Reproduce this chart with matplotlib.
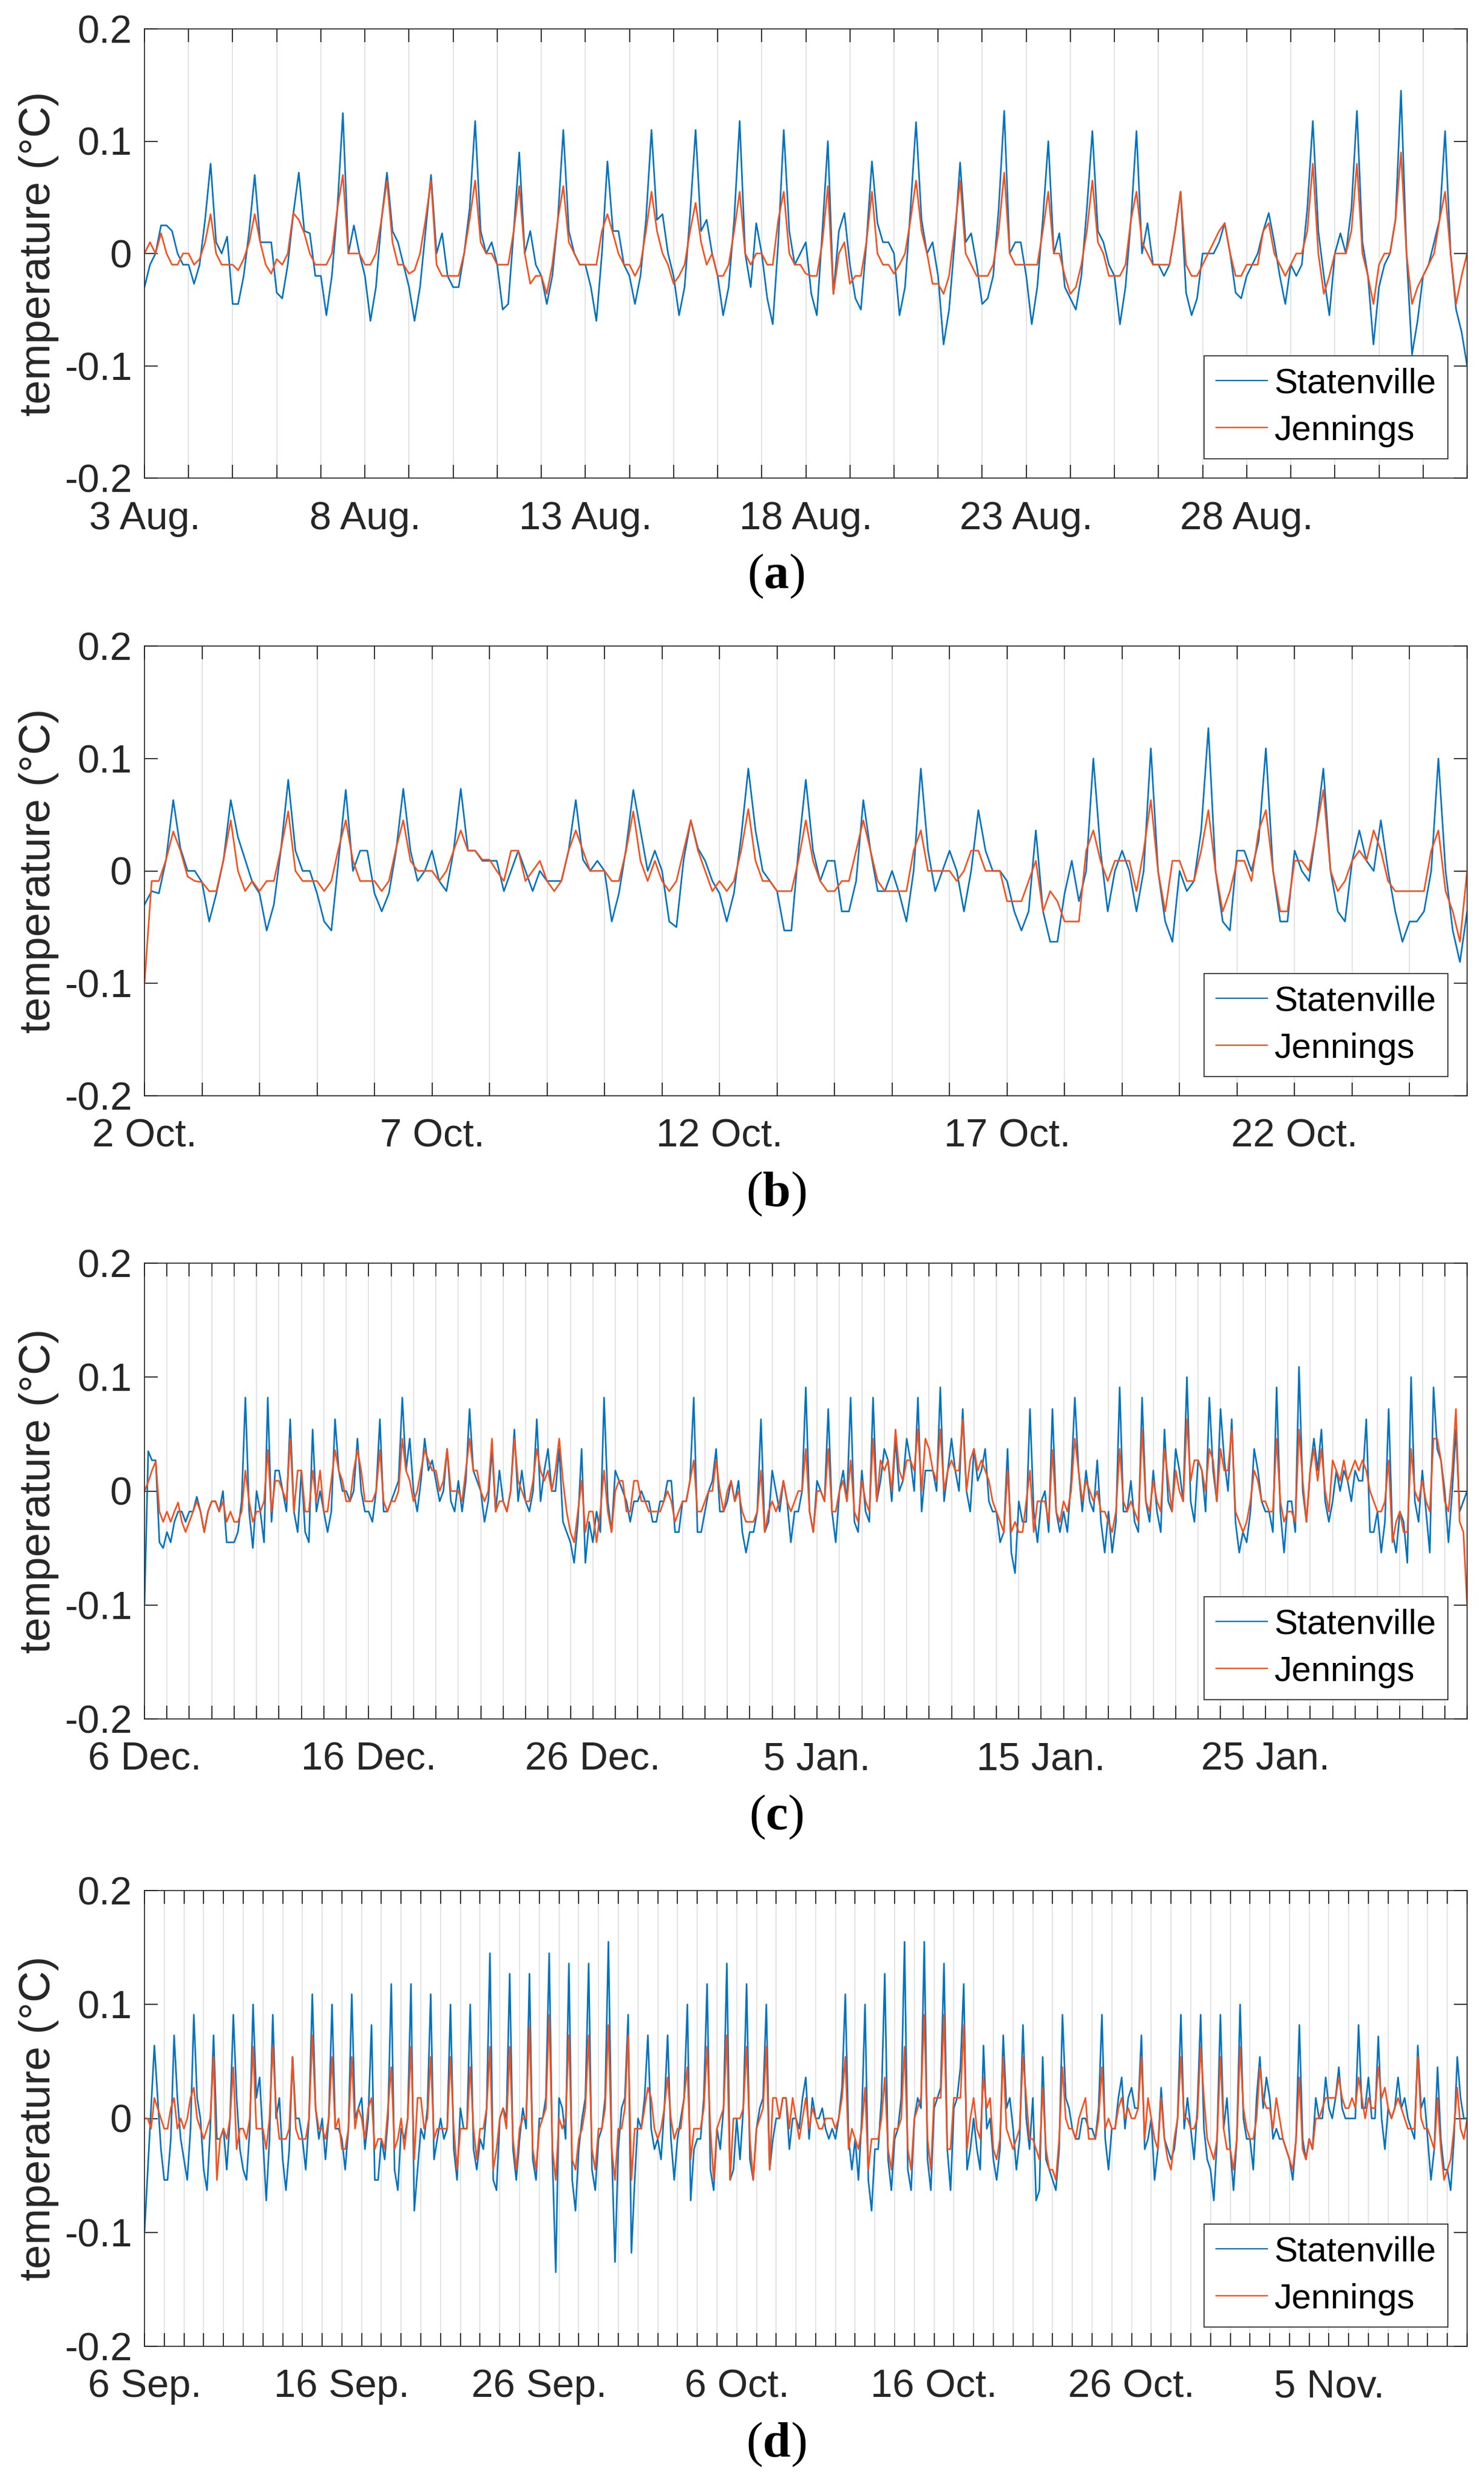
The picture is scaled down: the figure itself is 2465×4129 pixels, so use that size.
#!/usr/bin/python3

import numpy as np
import matplotlib
matplotlib.use("Agg")
import matplotlib.pyplot as plt

#_____________________________________________________________________________
# temperature residuals (deg C)
# panels a, b: one value every 3 h (8 per day), panels c, d: every 4 h (6 per day)

a_dt = 3
a_stat = [
    -0.03, -0.01, 0.0, 0.025, 0.025, 0.02, 0.0, -0.01,
    -0.01, -0.027, -0.01, 0.03, 0.08, 0.01, 0.0, 0.015,
    -0.045, -0.045, -0.02, 0.02, 0.07, 0.01, 0.01, 0.01,
    -0.035, -0.04, -0.01, 0.035, 0.072, 0.02, 0.018, -0.02,
    -0.02, -0.055, -0.02, 0.04, 0.125, 0.0, 0.025, 0.0,
    -0.02, -0.06, -0.03, 0.03, 0.072, 0.02, 0.01, -0.01,
    -0.03, -0.06, -0.03, 0.02, 0.07, 0.0, 0.018, -0.02,
    -0.03, -0.03, 0.0, 0.04, 0.118, 0.02, 0.0, 0.01,
    -0.01, -0.05, -0.045, 0.02, 0.09, 0.0, 0.02, -0.01,
    -0.02, -0.045, -0.02, 0.03, 0.11, 0.02, 0.0, -0.01,
    -0.01, -0.03, -0.06, 0.0, 0.082, 0.02, 0.02, -0.01,
    -0.02, -0.045, -0.02, 0.03, 0.11, 0.03, 0.035, 0.0,
    -0.02, -0.055, -0.03, 0.035, 0.11, 0.02, 0.03, 0.0,
    -0.02, -0.055, -0.03, 0.03, 0.118, 0.0, -0.03, 0.027,
    0.0, -0.04, -0.063, 0.01, 0.11, 0.02, -0.01, 0.0,
    0.01, -0.036, -0.055, 0.02, 0.10, -0.036, 0.02, 0.036,
    -0.01, -0.04, -0.05, 0.01, 0.082, 0.027, 0.01, 0.01,
    0.0, -0.055, -0.03, 0.04, 0.117, 0.03, 0.0, 0.01,
    -0.02, -0.081, -0.05, 0.01, 0.081, 0.01, 0.018, -0.01,
    -0.045, -0.04, -0.02, 0.04, 0.127, 0.0, 0.01, 0.01,
    -0.02, -0.063, -0.03, 0.03, 0.10, 0.0, 0.018, -0.03,
    -0.04, -0.05, -0.02, 0.04, 0.109, 0.02, 0.01, -0.01,
    -0.02, -0.063, -0.03, 0.03, 0.109, 0.0, 0.027, -0.01,
    -0.01, -0.02, -0.01, 0.02, 0.055, -0.035, -0.055, -0.04,
    0.0, 0.0, 0.0, 0.01, 0.027, 0.0, -0.035, -0.04,
    -0.02, -0.01, 0.0, 0.02, 0.036, 0.01, -0.02, -0.045,
    -0.01, -0.02, -0.01, 0.04, 0.118, 0.02, -0.02, -0.055,
    0.0, 0.018, 0.0, 0.04, 0.127, 0.01, -0.02, -0.081,
    -0.03, -0.01, 0.0, 0.03, 0.145, 0.0, -0.09, -0.06,
    -0.02, -0.01, 0.01, 0.03, 0.109, 0.0, -0.05, -0.07,
    -0.1,
]
a_jenn = [
    0.0, 0.01, 0.0, 0.018, 0.0, -0.01, -0.01, 0.0,
    0.0, -0.01, -0.005, 0.01, 0.035, 0.0, -0.01, -0.01,
    -0.01, -0.015, -0.005, 0.01, 0.035, 0.01, -0.01, -0.018,
    -0.005, -0.01, 0.0, 0.036, 0.03, 0.018, 0.0, -0.01,
    -0.01, -0.01, 0.0, 0.04, 0.07, 0.0, 0.0, 0.0,
    -0.01, -0.01, 0.0, 0.03, 0.065, 0.01, -0.01, -0.01,
    -0.018, -0.015, 0.0, 0.03, 0.065, -0.01, -0.02, -0.02,
    -0.02, -0.02, 0.0, 0.03, 0.065, 0.01, 0.0, 0.0,
    -0.01, -0.01, -0.01, 0.02, 0.06, 0.0, -0.027, -0.02,
    -0.02, -0.036, -0.01, 0.03, 0.06, 0.01, 0.0, -0.01,
    -0.01, -0.01, -0.01, 0.02, 0.035, 0.018, 0.0, -0.01,
    -0.01, -0.02, -0.01, 0.02, 0.055, 0.02, 0.0, -0.01,
    -0.027, -0.02, -0.01, 0.02, 0.045, 0.01, -0.01, 0.0,
    -0.02, -0.02, -0.01, 0.02, 0.055, 0.0, -0.01, 0.0,
    0.0, -0.01, -0.01, 0.03, 0.055, 0.0, -0.01, -0.01,
    -0.018, -0.02, -0.02, 0.01, 0.06, -0.036, 0.0, 0.01,
    -0.027, -0.02, -0.02, 0.01, 0.055, 0.0, -0.01, -0.01,
    -0.018, -0.01, 0.0, 0.03, 0.065, 0.02, 0.0, -0.027,
    -0.027, -0.036, -0.02, 0.02, 0.065, 0.0, -0.01, -0.02,
    -0.02, -0.02, -0.01, 0.02, 0.072, 0.0, -0.01, -0.01,
    -0.01, -0.01, -0.01, 0.02, 0.055, 0.0, 0.0, -0.02,
    -0.036, -0.03, -0.01, 0.02, 0.065, 0.01, 0.0, -0.02,
    -0.02, -0.02, -0.01, 0.03, 0.055, 0.01, 0.0, -0.01,
    -0.01, -0.01, -0.01, 0.02, 0.055, -0.01, -0.02, -0.02,
    -0.01, 0.0, 0.01, 0.02, 0.027, 0.0, -0.02, -0.02,
    -0.01, -0.01, -0.01, 0.02, 0.027, 0.0, -0.01, -0.02,
    -0.01, 0.0, 0.0, 0.02, 0.08, 0.0, -0.036, -0.02,
    0.0, 0.0, 0.0, 0.02, 0.08, 0.0, -0.02, -0.045,
    -0.01, 0.0, 0.0, 0.03, 0.09, 0.0, -0.045, -0.03,
    -0.02, -0.01, 0.0, 0.03, 0.055, 0.0, -0.045, -0.02,
    0.0,
]
a_labels = ["3 Aug.", "8 Aug.", "13 Aug.", "18 Aug.", "23 Aug.", "28 Aug."]
a_lstep = 5

b_dt = 3
b_stat = [
    -0.03, -0.018, -0.02, 0.01, 0.063, 0.02, 0.0, 0.0,
    -0.01, -0.045, -0.02, 0.01, 0.063, 0.03, 0.01, -0.01,
    -0.02, -0.053, -0.03, 0.02, 0.081, 0.018, 0.0, 0.0,
    -0.02, -0.045, -0.053, 0.01, 0.072, 0.0, 0.018, 0.018,
    -0.02, -0.036, -0.02, 0.018, 0.073, 0.018, -0.009, 0.0,
    0.018, -0.009, -0.018, 0.018, 0.073, 0.018, 0.018, 0.009,
    0.009, 0.009, -0.018, 0.0, 0.018, 0.0, -0.018, 0.0,
    -0.009, -0.009, -0.009, 0.018, 0.063, 0.01, 0.0, 0.009,
    0.0, -0.045, -0.02, 0.02, 0.072, 0.036, 0.0, 0.018,
    0.0, -0.045, -0.05, 0.01, 0.045, 0.02, 0.009, -0.009,
    -0.02, -0.045, -0.02, 0.03, 0.091, 0.036, 0.0, -0.009,
    -0.018, -0.053, -0.053, 0.02, 0.081, 0.018, -0.009, 0.009,
    0.009, -0.036, -0.036, -0.009, 0.063, 0.018, -0.018, -0.018,
    0.0, -0.02, -0.045, 0.0, 0.091, 0.018, -0.018, 0.0,
    0.018, 0.0, -0.036, 0.0, 0.054, 0.018, 0.0, 0.0,
    -0.009, -0.036, -0.053, -0.036, 0.036, -0.036, -0.063, -0.063,
    -0.02, 0.009, -0.027, 0.0, 0.1, 0.018, -0.036, 0.0,
    0.018, 0.0, -0.036, 0.0, 0.109, 0.0, -0.045, -0.063,
    0.0, -0.018, -0.009, 0.036, 0.127, 0.0, -0.045, -0.053,
    0.018, 0.018, 0.0, 0.027, 0.109, 0.0, -0.045, -0.045,
    0.018, 0.0, -0.009, 0.036, 0.091, 0.0, -0.036, -0.045,
    0.009, 0.036, 0.009, 0.0, 0.045, 0.0, -0.036, -0.063,
    -0.045, -0.045, -0.036, 0.0, 0.1, 0.0, -0.053, -0.081,
    -0.036,
]
b_jenn = [
    -0.1, -0.009, -0.009, 0.01, 0.035, 0.018, -0.005, -0.009,
    -0.01, -0.018, -0.018, 0.01, 0.045, 0.0, -0.018, -0.009,
    -0.018, -0.009, -0.009, 0.02, 0.053, 0.0, -0.009, -0.009,
    -0.009, -0.018, -0.009, 0.02, 0.045, 0.009, -0.009, -0.009,
    -0.009, -0.018, -0.009, 0.02, 0.045, 0.009, 0.0, 0.0,
    0.0, -0.009, 0.0, 0.018, 0.036, 0.018, 0.018, 0.01,
    0.01, 0.0, -0.009, 0.018, 0.018, -0.009, 0.0, 0.009,
    -0.009, -0.018, -0.009, 0.018, 0.036, 0.018, 0.0, 0.0,
    0.0, -0.009, -0.009, 0.018, 0.053, 0.009, -0.009, 0.009,
    -0.009, -0.018, -0.009, 0.018, 0.045, 0.018, 0.0, -0.018,
    -0.009, -0.018, -0.009, 0.018, 0.055, 0.009, -0.009, -0.009,
    -0.018, -0.018, -0.018, 0.01, 0.045, 0.009, -0.009, -0.018,
    -0.018, -0.009, -0.009, 0.018, 0.045, 0.018, -0.009, -0.018,
    -0.018, -0.018, -0.018, 0.018, 0.036, 0.0, 0.0, 0.0,
    0.0, -0.009, 0.0, 0.018, 0.018, 0.0, 0.0, 0.0,
    -0.027, -0.027, -0.027, -0.009, 0.009, -0.036, -0.018, -0.027,
    -0.045, -0.045, -0.045, 0.018, 0.036, 0.009, -0.009, 0.009,
    0.009, 0.009, -0.018, 0.018, 0.063, 0.0, -0.036, 0.009,
    0.009, -0.009, -0.009, 0.018, 0.054, 0.0, -0.036, -0.018,
    0.009, 0.009, -0.009, 0.036, 0.054, 0.0, -0.036, -0.036,
    0.009, 0.009, 0.0, 0.036, 0.072, 0.0, -0.018, -0.009,
    0.009, 0.018, 0.009, 0.036, 0.018, -0.009, -0.018, -0.018,
    -0.018, -0.018, -0.018, 0.018, 0.036, -0.018, -0.036, -0.063,
    0.0,
]
b_labels = ["2 Oct.", "7 Oct.", "12 Oct.", "17 Oct.", "22 Oct."]
b_lstep = 5

c_dt = 4
c_stat = [
    -0.1, 0.035, 0.027, 0.027, -0.045, -0.05,
    -0.036, -0.045, -0.027, -0.018, -0.018, -0.027,
    -0.018, -0.018, -0.005, -0.018, -0.036, -0.018,
    -0.009, -0.009, -0.018, 0.0, -0.045, -0.045,
    -0.045, -0.036, -0.009, 0.082, -0.018, -0.05,
    0.0, -0.018, -0.045, 0.082, -0.027, 0.018,
    0.018, 0.0, -0.018, 0.063, -0.018, -0.036,
    0.018, -0.036, -0.045, 0.054, -0.018, 0.0,
    -0.018, -0.036, -0.018, 0.063, 0.018, 0.0,
    0.0, -0.009, 0.0, 0.046, 0.0, -0.018,
    -0.018, -0.027, 0.0, 0.063, -0.018, -0.018,
    -0.009, 0.0, 0.009, 0.082, 0.018, 0.046,
    0.0, -0.018, 0.009, 0.046, 0.018, 0.027,
    0.009, -0.009, 0.0, 0.037, -0.009, -0.018,
    0.009, -0.018, 0.009, 0.072, 0.018, 0.009,
    0.0, -0.027, -0.009, 0.037, -0.018, 0.018,
    -0.009, -0.018, 0.0, 0.054, -0.009, 0.018,
    -0.009, -0.018, 0.0, 0.063, -0.009, 0.018,
    0.037, 0.0, 0.0, 0.037, -0.027, -0.036,
    -0.045, -0.063, -0.027, 0.037, -0.063, -0.027,
    -0.045, -0.018, -0.036, 0.082, -0.009, -0.036,
    0.018, 0.009, 0.0, -0.009, -0.027, -0.009,
    -0.009, 0.0, -0.009, -0.009, -0.027, -0.027,
    -0.009, -0.009, 0.009, 0.009, -0.036, -0.036,
    -0.009, -0.009, 0.009, 0.082, -0.036, -0.036,
    -0.018, 0.0, 0.009, 0.037, -0.018, -0.018,
    -0.009, 0.009, -0.009, 0.009, -0.036, -0.054,
    -0.036, -0.036, -0.018, 0.063, -0.036, -0.027,
    0.018, 0.0, -0.018, 0.009, -0.009, -0.045,
    -0.018, -0.018, 0.0, 0.091, -0.018, -0.036,
    0.009, 0.0, -0.009, 0.072, -0.018, -0.045,
    0.0, 0.018, -0.009, 0.082, -0.027, -0.036,
    0.018, -0.018, -0.027, 0.082, -0.009, 0.009,
    0.037, 0.027, -0.009, 0.046, 0.0, 0.009,
    0.046, 0.027, 0.0, 0.082, -0.018, 0.018,
    0.018, 0.018, 0.0, 0.091, -0.009, 0.018,
    0.046, 0.018, 0.0, 0.072, 0.0, -0.018,
    0.037, 0.009, 0.018, 0.037, -0.009, -0.018,
    -0.018, -0.045, -0.036, 0.037, -0.054, -0.072,
    -0.009, -0.027, -0.027, 0.072, -0.018, -0.045,
    -0.009, 0.0, -0.036, 0.072, -0.018, -0.036,
    -0.018, -0.036, 0.009, 0.082, 0.018, -0.018,
    0.018, -0.009, -0.018, 0.027, -0.027, -0.054,
    -0.018, -0.054, -0.027, 0.091, -0.018, -0.018,
    0.009, -0.027, -0.036, 0.082, -0.009, -0.027,
    0.018, -0.018, -0.036, 0.054, -0.009, -0.018,
    0.037, 0.018, -0.009, 0.1, -0.009, -0.027,
    0.027, 0.018, -0.018, 0.082, 0.018, -0.009,
    0.072, 0.027, 0.0, 0.063, -0.027, -0.054,
    -0.036, -0.045, -0.018, 0.037, 0.018, -0.009,
    -0.018, -0.018, -0.036, 0.091, -0.018, -0.054,
    -0.009, -0.009, -0.036, 0.109, 0.0, -0.027,
    0.018, 0.046, 0.018, 0.054, -0.009, -0.027,
    -0.009, 0.018, 0.0, 0.018, 0.009, -0.009,
    0.018, 0.009, 0.009, 0.063, -0.036, -0.036,
    -0.018, -0.054, -0.027, 0.072, -0.036, -0.054,
    -0.018, -0.027, -0.063, 0.1, -0.009, -0.027,
    0.018, -0.018, -0.054, 0.091, 0.037, 0.027,
    0.0, -0.045, 0.0, 0.054, -0.018, -0.009,
    0.0,
]
c_jenn = [
    0.0, 0.008, 0.018, 0.026, -0.018, -0.027,
    -0.018, -0.027, -0.018, -0.01, -0.027, -0.036,
    -0.027, -0.018, -0.009, -0.018, -0.036, -0.018,
    -0.009, -0.009, -0.018, -0.009, -0.027, -0.018,
    -0.027, -0.027, -0.018, 0.018, -0.009, -0.027,
    -0.018, -0.018, -0.009, 0.036, -0.018, 0.009,
    0.009, 0.0, -0.009, 0.046, -0.018, 0.018,
    0.018, -0.018, -0.018, 0.018, -0.009, 0.018,
    -0.018, -0.018, 0.009, 0.036, 0.018, 0.009,
    -0.009, -0.009, 0.018, 0.036, 0.018, -0.009,
    -0.009, -0.009, 0.0, 0.036, -0.009, -0.018,
    -0.009, -0.009, 0.0, 0.046, 0.018, 0.009,
    -0.009, 0.0, 0.018, 0.036, 0.027, 0.018,
    0.018, 0.0, 0.009, 0.037, 0.0, 0.0,
    0.0, -0.009, 0.018, 0.046, 0.018, 0.018,
    0.0, -0.009, 0.0, 0.046, -0.018, -0.009,
    -0.009, -0.018, 0.0, 0.046, 0.009, 0.0,
    -0.009, -0.009, 0.009, 0.037, 0.018, 0.009,
    0.018, 0.0, 0.018, 0.046, 0.009, -0.018,
    -0.036, -0.045, -0.018, 0.009, -0.036, -0.018,
    -0.018, -0.045, -0.018, 0.018, -0.018, -0.036,
    0.0, 0.009, 0.009, -0.018, -0.018, 0.009,
    0.009, -0.009, -0.009, -0.018, -0.018, -0.018,
    -0.018, -0.009, 0.0, -0.009, -0.027, -0.018,
    -0.009, -0.009, 0.009, 0.027, -0.018, -0.018,
    -0.009, 0.0, 0.0, 0.027, 0.0, -0.018,
    0.0, 0.009, -0.009, 0.0, -0.018, -0.027,
    -0.027, -0.027, -0.018, 0.018, -0.036, -0.018,
    -0.009, -0.018, -0.009, 0.009, -0.009, -0.018,
    -0.009, 0.0, 0.0, 0.037, -0.018, -0.036,
    0.0, 0.0, -0.009, 0.037, -0.018, -0.018,
    0.0, 0.009, -0.009, 0.027, -0.018, -0.027,
    0.009, -0.009, -0.018, 0.046, -0.009, 0.027,
    0.018, 0.027, 0.0, 0.054, 0.018, 0.009,
    0.027, 0.027, 0.018, 0.054, 0.0, 0.046,
    0.037, 0.018, 0.009, 0.054, 0.0, 0.018,
    0.027, 0.018, 0.018, 0.063, 0.0, 0.027,
    0.037, 0.018, 0.027, 0.018, 0.009, -0.009,
    -0.018, -0.027, -0.036, 0.018, -0.036, -0.027,
    -0.036, -0.036, -0.009, 0.018, -0.036, -0.009,
    -0.009, -0.009, -0.027, 0.036, -0.018, -0.027,
    -0.009, -0.018, 0.0, 0.046, 0.018, -0.009,
    0.009, 0.0, -0.009, 0.0, -0.018, -0.018,
    -0.027, -0.036, -0.018, 0.037, -0.009, -0.018,
    -0.009, -0.018, -0.027, 0.054, -0.009, -0.018,
    0.009, -0.009, -0.018, 0.037, 0.009, -0.018,
    0.018, 0.0, -0.009, 0.063, 0.009, 0.027,
    0.027, 0.018, 0.0, 0.037, 0.027, -0.009,
    0.037, 0.018, 0.018, 0.054, -0.018, -0.027,
    -0.036, -0.027, -0.009, 0.018, 0.009, -0.009,
    -0.009, -0.018, -0.018, 0.046, -0.009, -0.027,
    -0.018, -0.018, -0.027, 0.054, 0.009, -0.027,
    0.018, 0.037, 0.009, 0.037, 0.0, -0.018,
    0.027, 0.018, 0.009, 0.027, 0.009, 0.018,
    0.027, 0.018, 0.027, 0.018, 0.0, -0.009,
    -0.018, -0.018, -0.009, 0.027, -0.045, -0.027,
    -0.018, -0.036, -0.036, 0.037, 0.0, -0.009,
    0.009, -0.009, -0.018, 0.046, 0.046, 0.027,
    -0.009, -0.018, 0.018, 0.072, -0.027, -0.036,
    -0.1,
]
c_labels = ["6 Dec.", "16 Dec.", "26 Dec.", "5 Jan.", "15 Jan.", "25 Jan."]
c_lstep = 10

d_dt = 4
d_stat = [
    -0.1, -0.045, 0.009, 0.064, 0.018, -0.027,
    -0.054, -0.054, -0.018, 0.073, 0.018, -0.018,
    -0.036, -0.054, -0.009, 0.091, 0.018, 0.0,
    -0.045, -0.063, -0.009, 0.073, -0.018, -0.018,
    -0.009, -0.045, 0.0, 0.091, 0.018, -0.027,
    -0.045, -0.054, -0.009, 0.1, 0.018, 0.036,
    -0.018, -0.072, -0.018, 0.091, 0.0, 0.018,
    -0.036, -0.063, -0.027, 0.054, 0.0, 0.0,
    -0.018, -0.045, 0.0, 0.109, 0.009, -0.018,
    0.0, -0.036, 0.0, 0.1, -0.009, -0.009,
    -0.018, -0.045, -0.009, 0.109, 0.0, 0.009,
    0.018, -0.027, 0.0, 0.082, -0.054, -0.054,
    -0.018, -0.036, 0.0, 0.118, -0.045, -0.063,
    -0.009, -0.018, 0.0, 0.118, -0.081, -0.045,
    -0.009, -0.018, 0.009, 0.109, -0.036, -0.018,
    0.0, -0.018, -0.009, 0.1, -0.027, -0.054,
    0.009, -0.009, -0.009, 0.1, -0.027, -0.045,
    -0.018, -0.027, 0.009, 0.145, -0.054, -0.063,
    0.0, 0.009, 0.0, 0.127, -0.027, -0.054,
    -0.018, 0.009, -0.009, 0.127, -0.036, -0.054,
    0.0, 0.0, 0.018, 0.145, -0.036, -0.135,
    0.018, 0.009, -0.018, 0.136, -0.054, -0.081,
    -0.027, 0.0, 0.018, 0.136, -0.045, -0.063,
    -0.018, -0.009, 0.018, 0.155, -0.027, -0.126,
    -0.027, 0.009, 0.018, 0.091, -0.118, -0.054,
    0.0, -0.009, 0.018, 0.073, -0.009, -0.027,
    -0.018, -0.036, 0.009, 0.073, -0.018, -0.054,
    -0.018, 0.0, 0.018, 0.1, -0.072, -0.027,
    -0.018, -0.018, 0.018, 0.118, -0.045, -0.063,
    -0.009, -0.027, 0.009, 0.136, -0.054, -0.045,
    0.0, -0.036, 0.009, 0.118, -0.036, -0.054,
    -0.009, 0.009, 0.018, 0.1, -0.045, -0.018,
    0.0, 0.0, 0.018, 0.018, -0.027, 0.0,
    0.0, -0.009, 0.018, 0.036, -0.018, 0.018,
    0.0, 0.0, 0.009, -0.009, -0.018, -0.009,
    -0.018, 0.0, 0.027, 0.109, -0.018, -0.045,
    -0.018, -0.054, 0.0, 0.1, -0.054, -0.081,
    -0.027, -0.027, 0.018, 0.127, -0.036, -0.063,
    -0.018, -0.009, 0.018, 0.155, -0.045, -0.063,
    0.0, 0.018, 0.009, 0.155, -0.036, -0.063,
    0.009, 0.018, 0.027, 0.136, -0.027, -0.063,
    0.009, 0.018, 0.045, 0.118, -0.045, -0.027,
    0.0, -0.027, -0.045, 0.064, -0.009, 0.0,
    -0.036, -0.054, -0.027, 0.073, 0.009, 0.018,
    -0.009, -0.045, -0.018, 0.082, 0.0, -0.027,
    0.018, -0.072, -0.063, 0.054, -0.036, -0.045,
    -0.054, -0.063, -0.027, 0.091, 0.018, 0.009,
    -0.009, -0.018, -0.018, 0.0, 0.0, -0.009,
    -0.009, -0.018, 0.009, 0.091, -0.018, -0.045,
    -0.009, -0.009, 0.018, 0.036, -0.009, 0.018,
    0.027, 0.009, 0.009, 0.073, -0.027, -0.018,
    0.0, -0.054, -0.027, 0.027, -0.018, -0.027,
    -0.036, -0.027, 0.0, 0.091, -0.009, 0.018,
    -0.009, -0.036, 0.009, 0.091, -0.009, -0.036,
    -0.045, -0.072, -0.018, 0.091, -0.009, 0.018,
    -0.027, -0.063, -0.018, 0.1, 0.0, -0.018,
    -0.018, -0.045, 0.018, 0.054, 0.009, 0.036,
    0.018, -0.018, -0.009, -0.018, -0.018, -0.027,
    -0.036, -0.054, -0.018, 0.082, -0.018, -0.036,
    -0.018, -0.027, 0.018, 0.0, 0.0, 0.036,
    0.009, 0.0, 0.018, 0.045, 0.009, 0.0,
    0.0, 0.0, 0.0, 0.082, 0.009, 0.009,
    0.036, 0.0, 0.0, 0.072, 0.0, -0.027,
    0.009, 0.0, 0.009, 0.036, 0.009, 0.018,
    0.0, -0.009, -0.018, 0.064, 0.009, 0.018,
    -0.018, -0.054, -0.027, 0.045, -0.018, -0.045,
    -0.045, -0.063, -0.018, 0.054, 0.018, 0.0,
    0.0,
]
d_jenn = [
    0.0, 0.0, -0.009, 0.018, 0.009, 0.0,
    -0.009, -0.009, 0.009, 0.018, -0.009, 0.0,
    -0.009, 0.0, 0.018, 0.027, 0.0, -0.009,
    -0.018, -0.009, 0.0, 0.054, -0.054, -0.018,
    -0.009, -0.018, 0.0, 0.045, -0.027, -0.009,
    -0.009, -0.018, 0.0, 0.063, -0.009, -0.009,
    -0.009, -0.027, 0.0, 0.063, 0.009, -0.018,
    -0.018, -0.018, -0.009, 0.054, -0.009, -0.018,
    -0.018, -0.018, 0.0, 0.073, 0.009, -0.009,
    -0.009, -0.018, 0.0, 0.054, -0.009, 0.0,
    -0.027, -0.027, -0.009, 0.054, -0.009, 0.009,
    0.0, -0.018, 0.009, 0.018, -0.027, -0.018,
    -0.018, -0.027, 0.009, 0.045, -0.027, -0.018,
    0.0, -0.027, 0.0, 0.063, -0.036, 0.018,
    0.018, -0.009, 0.0, 0.054, -0.018, -0.009,
    -0.009, -0.009, -0.009, 0.054, -0.009, -0.045,
    -0.009, -0.009, -0.009, 0.045, -0.009, -0.036,
    -0.009, -0.009, 0.009, 0.063, -0.045, -0.027,
    0.0, 0.009, -0.009, 0.063, -0.018, -0.045,
    -0.009, 0.0, 0.0, 0.081, -0.027, -0.045,
    -0.009, 0.0, 0.009, 0.091, -0.027, -0.054,
    0.0, -0.009, 0.0, 0.073, -0.036, -0.045,
    -0.018, -0.009, 0.009, 0.073, -0.027, -0.045,
    -0.009, -0.009, 0.009, 0.082, -0.027, -0.054,
    -0.009, -0.009, 0.009, 0.073, -0.054, -0.009,
    -0.009, -0.009, 0.009, 0.027, 0.018, -0.009,
    -0.018, -0.009, 0.009, 0.036, 0.0, -0.018,
    -0.009, -0.009, 0.018, 0.045, -0.036, -0.009,
    -0.009, -0.009, 0.009, 0.063, -0.009, -0.054,
    -0.009, 0.0, 0.009, 0.073, -0.054, 0.0,
    0.0, 0.0, 0.009, 0.063, -0.018, -0.054,
    -0.009, 0.0, 0.009, 0.063, -0.045, 0.018,
    0.018, 0.0, 0.018, 0.018, -0.009, 0.018,
    0.0, -0.018, 0.0, 0.018, -0.009, 0.009,
    0.0, -0.009, -0.009, 0.0, 0.0, 0.0,
    -0.009, 0.0, 0.018, 0.054, -0.027, -0.009,
    -0.018, -0.027, -0.009, 0.027, -0.045, -0.018,
    -0.018, -0.018, 0.0, 0.036, -0.027, -0.045,
    -0.009, -0.009, 0.0, 0.063, -0.027, -0.045,
    0.0, 0.009, 0.018, 0.091, -0.018, -0.045,
    0.018, 0.018, 0.018, 0.091, -0.027, -0.027,
    0.018, 0.018, 0.018, 0.082, -0.027, 0.0,
    0.018, -0.009, -0.018, 0.036, 0.009, 0.018,
    -0.027, -0.036, -0.018, 0.054, -0.009, -0.018,
    -0.027, -0.018, -0.009, 0.054, 0.018, -0.018,
    -0.018, -0.027, -0.036, 0.027, -0.027, -0.045,
    -0.045, -0.054, -0.018, 0.045, 0.0, -0.009,
    -0.009, -0.018, 0.0, 0.009, 0.018, -0.018,
    -0.018, -0.018, 0.0, 0.045, -0.009, 0.0,
    -0.009, -0.009, 0.009, 0.018, 0.0, 0.009,
    0.0, 0.0, 0.009, 0.054, -0.018, 0.018,
    0.0, -0.018, -0.027, 0.018, -0.018, -0.036,
    -0.045, -0.018, 0.0, 0.054, 0.0, 0.0,
    -0.009, -0.009, 0.0, 0.063, 0.018, -0.018,
    -0.027, -0.036, -0.018, 0.054, -0.009, -0.027,
    -0.027, -0.045, -0.018, 0.063, 0.009, -0.009,
    -0.018, -0.018, 0.0, 0.045, 0.018, 0.009,
    0.009, -0.009, 0.018, 0.0, -0.018, -0.027,
    -0.036, -0.045, -0.018, 0.036, -0.027, -0.036,
    -0.018, -0.027, 0.0, 0.0, 0.009, 0.018,
    0.018, 0.018, 0.018, 0.036, 0.018, 0.009,
    0.009, 0.018, 0.009, 0.036, 0.018, 0.0,
    0.018, 0.009, 0.009, 0.045, 0.018, 0.027,
    0.009, 0.0, 0.009, 0.018, 0.009, 0.0,
    -0.009, -0.009, -0.009, 0.054, 0.0, -0.009,
    -0.009, -0.018, -0.027, 0.018, -0.027, -0.054,
    -0.045, -0.036, -0.009, 0.027, -0.009, -0.018,
    0.0,
]
d_labels = ["6 Sep.", "16 Sep.", "26 Sep.", "6 Oct.", "16 Oct.", "26 Oct.", "5 Nov."]
d_lstep = 10

yticks = [-0.2, -0.1, 0, 0.1, 0.2]
yticklabels = ["-0.2", "-0.1", "0", "0.1", "0.2"]

col_stat = "#0072BD"
col_jenn = "#F4511E"
col_ax = "#262626"

#_____________________________________________________________________________
def main():

    plt.rcParams["font.family"] = ["Liberation Sans", "DejaVu Sans"]
    plt.rcParams["axes.unicode_minus"] = False
    plt.rcParams["mathtext.fontset"] = "custom"
    plt.rcParams["mathtext.rm"] = "Liberation Serif"
    plt.rcParams["mathtext.bf"] = "Liberation Serif:bold"

    W, H = 2465., 4129.
    fig = plt.figure(figsize=(W/100, H/100), dpi=100)

    # axes boxes in pixels: top, bottom
    boxes = [(48, 794), (1073, 1820), (2098, 2855), (3140, 3897)]
    x0, x1 = 240, 2437

    panels = [
        (a_stat, a_jenn, a_dt, a_labels, a_lstep, "a"),
        (b_stat, b_jenn, b_dt, b_labels, b_lstep, "b"),
        (c_stat, c_jenn, c_dt, c_labels, c_lstep, "c"),
        (d_stat, d_jenn, d_dt, d_labels, d_lstep, "d"),
    ]

    for (top, bot), (st, je, dt, labs, lstep, tag) in zip(boxes, panels):
        ax = fig.add_axes([x0/W, 1-bot/H, (x1-x0)/W, (bot-top)/H])
        draw_panel(ax, st, je, dt, labs, lstep)
        fig.text(1289/W, 1-(bot+163)/H, r"($\mathbf{"+tag+"}$)",
                 family="Liberation Serif", fontsize=60,
                 ha="center", va="center", color="black")

    fig.savefig("out.png", dpi=100)
    plt.close()

#main

#_____________________________________________________________________________
def draw_panel(ax, st, je, dt, labs, lstep):

    st = np.array(st)
    je = np.array(je)
    t = np.arange(len(st)) * dt / 24.
    ndays = int(round(t[-1]))

    ax.plot(t, st, "-", color=col_stat, lw=1.9, label="Statenville")
    ax.plot(t, je, "-", color=col_jenn, lw=1.9, label="Jennings")

    ax.set_xlim(0, ndays)
    ax.set_ylim(-0.2, 0.2)

    days = np.arange(ndays+1)
    ax.set_xticks(days)
    xl = [""]*len(days)
    for i, lab in enumerate(labs):
        xl[i*lstep] = lab
    ax.set_xticklabels(xl)
    ax.set_yticks(yticks)
    ax.set_yticklabels(yticklabels)

    ax.tick_params(axis="both", direction="in", top=True, right=True,
                   length=16, width=1.3, colors=col_ax, labelsize=47)
    ax.tick_params(axis="x", pad=27)
    ax.tick_params(axis="y", pad=15)
    for lab in ax.get_xticklabels() + ax.get_yticklabels():
        lab.set_color(col_ax)

    ax.grid(True, axis="x", color="#e2e2e2", linewidth=1.3)
    ax.set_axisbelow(True)

    for s in ax.spines.values():
        s.set_color(col_ax)
        s.set_linewidth(1.2)

    ax.set_ylabel("temperature (°C)", fontsize=52, color=col_ax, va="center")
    ax.yaxis.set_label_coords(-0.0797, 0.5)

    leg = ax.legend(loc="lower right", fontsize=42, frameon=True, fancybox=False,
                    framealpha=1, edgecolor=col_ax, borderpad=0.33,
                    labelspacing=0.42, handlelength=1.46, handletextpad=0.2,
                    borderaxespad=0.55)
    leg.get_frame().set_linewidth(1.2)
    for ln in leg.get_lines():
        ln.set_linewidth(1.6)

#draw_panel

#_____________________________________________________________________________
if __name__ == "__main__":

    main()
